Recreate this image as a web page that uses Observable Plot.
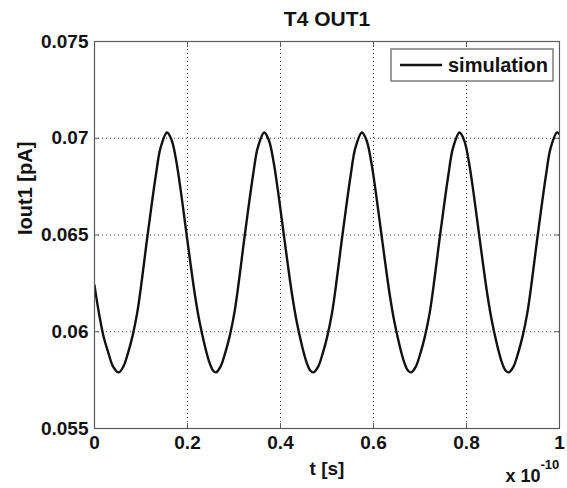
<!DOCTYPE html>
<html><head><meta charset="utf-8">
<script src="https://cdn.jsdelivr.net/npm/d3@7"></script>
<script src="https://cdn.jsdelivr.net/npm/@observablehq/plot@0.6"></script>
<style>
html,body{margin:0;padding:0;background:#fff}
#chart svg{display:block}
</style>
</head><body><div id="chart"></div>
<script>
const titleText = "T4 OUT1";
const xLabel = "t [s]";
const yLabel = "Iout1 [pA]";
const xMultiplier = "x 10";
const xExponent = "-10";
const seriesName = "simulation";
const xTicks = [0, 0.2, 0.4, 0.6, 0.8, 1];
const xTickLabels = ["0", "0.2", "0.4", "0.6", "0.8", "1"];
const yTicks = [0.055, 0.06, 0.065, 0.07, 0.075];
const yTickLabels = ["0.055", "0.06", "0.065", "0.07", "0.075"];

// time in units of 1e-10 s
const tValues = [
  0, 0.010, 0.020, 0.030, 0.040, 0.052,
  0.062, 0.072, 0.082, 0.092, 0.102, 0.112, 0.122, 0.132, 0.142, 0.156,
  0.166, 0.176, 0.186, 0.196, 0.206, 0.216, 0.226, 0.236, 0.246, 0.255,
  0.261, 0.271, 0.281, 0.291, 0.301, 0.311, 0.321, 0.331, 0.341, 0.351, 0.365,
  0.375, 0.385, 0.395, 0.405, 0.415, 0.425, 0.435, 0.445, 0.455, 0.464,
  0.471, 0.481, 0.491, 0.501, 0.511, 0.521, 0.531, 0.541, 0.551, 0.561, 0.575,
  0.585, 0.595, 0.605, 0.615, 0.625, 0.635, 0.645, 0.655, 0.665, 0.674,
  0.681, 0.691, 0.701, 0.711, 0.721, 0.731, 0.741, 0.751, 0.761, 0.771, 0.785,
  0.795, 0.805, 0.815, 0.825, 0.835, 0.845, 0.855, 0.865, 0.875, 0.884,
  0.891, 0.901, 0.911, 0.921, 0.931, 0.941, 0.951, 0.961, 0.971, 0.981, 0.995,
  1.0
];
// Iout1 in pA
const ioutValues = [
  0.0624, 0.0609, 0.0597, 0.0589, 0.0582, 0.0579,
  0.0582, 0.0589, 0.0598, 0.0610, 0.0627, 0.0646, 0.0664, 0.0681, 0.0695, 0.0703,
  0.0699, 0.0688, 0.0672, 0.0654, 0.0636, 0.0619, 0.0605, 0.0594, 0.0585, 0.0580,
  0.0579, 0.0582, 0.0589, 0.0598, 0.0610, 0.0627, 0.0646, 0.0664, 0.0681, 0.0695, 0.0703,
  0.0699, 0.0688, 0.0672, 0.0654, 0.0636, 0.0619, 0.0605, 0.0594, 0.0585, 0.0580,
  0.0579, 0.0582, 0.0589, 0.0598, 0.0610, 0.0627, 0.0646, 0.0664, 0.0681, 0.0695, 0.0703,
  0.0699, 0.0688, 0.0672, 0.0654, 0.0636, 0.0619, 0.0605, 0.0594, 0.0585, 0.0580,
  0.0579, 0.0582, 0.0589, 0.0598, 0.0610, 0.0627, 0.0646, 0.0664, 0.0681, 0.0695, 0.0703,
  0.0699, 0.0688, 0.0672, 0.0654, 0.0636, 0.0619, 0.0605, 0.0594, 0.0585, 0.0580,
  0.0579, 0.0582, 0.0589, 0.0598, 0.0610, 0.0627, 0.0646, 0.0664, 0.0681, 0.0695, 0.0703,
  0.0702
];

(function () {
const data = tValues.map((t, i) => ({t, v: ioutValues[i]}));
const FONT = "'Liberation Sans', Arial, Helvetica, sans-serif";
const TXT = "#111";
const FRAME = "#5a5a5a";
const GRID = "#222";

const tickAxes = [
  Plot.axisX(xTicks, {anchor: "bottom", tickSize: -5, fill: "none", stroke: FRAME, label: null}),
  Plot.axisX(xTicks, {anchor: "top", tickSize: -5, fill: "none", stroke: FRAME, label: null}),
  Plot.axisY(yTicks, {anchor: "left", tickSize: -5, fill: "none", stroke: FRAME, label: null}),
  Plot.axisY(yTicks, {anchor: "right", tickSize: -5, fill: "none", stroke: FRAME, label: null})
];

const plot = Plot.plot({
  width: 567,
  height: 488,
  marginLeft: 94,
  marginRight: 8,
  marginTop: 41,
  marginBottom: 60,
  style: {fontFamily: FONT, fontSize: "19px", fontWeight: "bold", color: TXT, background: "#fff"},
  x: {domain: [0, 1], label: null},
  y: {domain: [0.055, 0.075], label: null},
  marks: [
    Plot.gridX(xTicks, {stroke: GRID, strokeOpacity: 0.9, strokeDasharray: "1,3"}),
    Plot.gridY(yTicks, {stroke: GRID, strokeOpacity: 0.9, strokeDasharray: "1,3"}),
    Plot.line(data, {x: "t", y: "v", stroke: "#111", strokeWidth: 2.4, curve: "catmull-rom", clip: true}),
    Plot.frame({stroke: FRAME, strokeWidth: 1.2}),
    ...tickAxes,
    Plot.axisX(xTicks, {anchor: "bottom", tickSize: 0, tickPadding: 7, tickFormat: (d, i) => xTickLabels[i], fill: TXT, fontSize: 19, fontWeight: "bold", label: null}),
    Plot.axisY(yTicks, {anchor: "left", tickSize: 0, tickPadding: 6, tickFormat: (d, i) => yTickLabels[i], fill: TXT, fontSize: 19, fontWeight: "bold", label: null}),
    Plot.text([titleText], {frameAnchor: "top", text: d => d, dy: -22, lineAnchor: "middle", fontSize: 21, fontWeight: "bold", fill: TXT}),
    Plot.text([xLabel], {frameAnchor: "bottom", text: d => d, dy: 40, lineAnchor: "middle", fontSize: 19, fontWeight: "bold", fill: TXT}),
    Plot.text([yLabel], {frameAnchor: "left", text: d => d, dx: -69, rotate: -90, lineAnchor: "middle", fontSize: 20, fontWeight: "bold", fill: TXT}),
    Plot.text([xMultiplier], {frameAnchor: "bottom-right", text: d => d, dx: -19, dy: 48, textAnchor: "end", lineAnchor: "middle", fontSize: 18, fontWeight: "bold", fill: TXT}),
    Plot.text([xExponent], {frameAnchor: "bottom-right", text: d => d, dx: -19, dy: 36, textAnchor: "start", lineAnchor: "middle", fontSize: 13, fontWeight: "bold", fill: TXT})
  ]
});

// legend box in the top-right corner of the frame
const xr = plot.scale("x").range;
const yr = plot.scale("y").range;
const frameRight = Math.max(...xr), frameTop = Math.min(...yr);
const svg = d3.select(plot);
const lg = svg.append("g").attr("font-family", FONT).attr("font-weight", "bold");
const boxW = 162, boxH = 32, boxX = frameRight - 6 - boxW, boxY = frameTop + 8;
lg.append("rect").attr("x", boxX).attr("y", boxY).attr("width", boxW).attr("height", boxH)
  .attr("fill", "#fff").attr("stroke", FRAME).attr("stroke-width", 1.2);
lg.append("line").attr("x1", boxX + 9).attr("x2", boxX + 51)
  .attr("y1", boxY + boxH / 2).attr("y2", boxY + boxH / 2)
  .attr("stroke", "#111").attr("stroke-width", 2.3);
lg.append("text").attr("x", boxX + 57).attr("y", boxY + boxH / 2).attr("dy", "0.35em")
  .attr("text-anchor", "start").attr("font-size", 20).attr("fill", TXT).text(seriesName);

document.getElementById("chart").appendChild(plot);
})();
</script>
</body></html>
